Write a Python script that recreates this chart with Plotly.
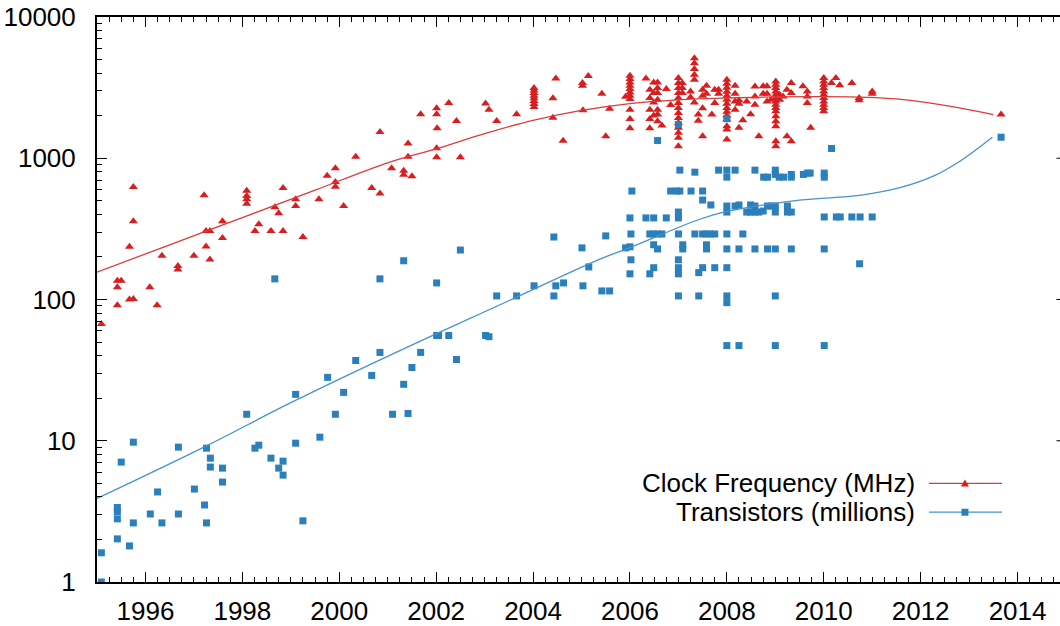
import plotly.graph_objects as go

# ---------------- data ----------------
clock_year = [
    1995.09, 1995.42, 1995.50, 1995.42, 1995.42, 1995.67, 1995.67, 1995.75, 1995.75, 1995.75,
    1996.09, 1996.24, 1996.34, 1996.67, 1996.67, 1997.00, 1997.21, 1997.25, 1997.33, 1997.25,
    1997.33, 1997.59, 1997.59, 1998.09, 1998.09, 1998.09, 1998.09, 1998.26, 1998.34, 1998.59,
    1998.67, 1998.75, 1998.84, 1998.84, 1999.10, 1999.10, 1999.25, 1999.58, 1999.75, 1999.92,
    1999.92, 1999.92, 2000.09, 2000.34, 2000.67, 2000.84, 2000.84, 2001.08, 2001.33, 2001.33,
    2001.42, 2001.42, 2001.50, 2001.68, 2002.01, 2002.01, 2002.02, 2002.01, 2002.01, 2002.26,
    2002.42, 2002.50, 2003.02, 2003.09, 2003.25, 2003.66,
    2004.02, 2004.02, 2004.02, 2004.02, 2004.02, 2004.02, 2004.02, 2004.02,
    2004.41, 2004.41, 2004.47, 2004.62, 2005.02, 2005.02, 2005.03, 2005.14, 2005.42, 2005.50,
    2005.58, 2005.91,
    2006.00, 2006.00, 2006.00, 2006.00, 2006.00, 2006.00, 2006.00, 2006.00, 2006.00, 2006.00, 2006.00,
    2006.33, 2006.41, 2006.41, 2006.41, 2006.41, 2006.41, 2006.49, 2006.49, 2006.49, 2006.49,
    2006.57, 2006.57, 2006.57, 2006.57, 2006.57, 2006.57, 2006.57, 2006.66, 2006.75, 2006.84,
    2007.00, 2007.00, 2007.00, 2007.00, 2007.00, 2007.00, 2007.00, 2007.00, 2007.00, 2007.00,
    2007.00, 2007.00, 2007.00, 2007.00,
    2007.08, 2007.08, 2007.08, 2007.25, 2007.25,
    2007.33, 2007.33, 2007.33, 2007.33, 2007.33, 2007.33,
    2007.41, 2007.41, 2007.50, 2007.50, 2007.50, 2007.50, 2007.58, 2007.58, 2007.69,
    2007.75, 2007.75, 2007.83, 2007.83,
    2008.00, 2008.00, 2008.00, 2008.00, 2008.00, 2008.00, 2008.00, 2008.00, 2008.00, 2008.00,
    2008.00, 2008.00, 2008.00, 2008.00,
    2008.17, 2008.17, 2008.17, 2008.17, 2008.25, 2008.25, 2008.25, 2008.33, 2008.41, 2008.49,
    2008.58, 2008.58, 2008.58, 2008.66, 2008.75, 2008.75, 2008.83, 2008.83, 2008.83, 2008.91,
    2009.01, 2009.01, 2009.01, 2009.01, 2009.01, 2009.01, 2009.01, 2009.01, 2009.01, 2009.01,
    2009.01, 2009.01, 2009.01, 2009.01, 2009.01,
    2009.09, 2009.09, 2009.16, 2009.24, 2009.24, 2009.33, 2009.33, 2009.33, 2009.57,
    2009.66, 2009.66, 2009.66, 2009.73,
    2010.00, 2010.00, 2010.00, 2010.00, 2010.00, 2010.00, 2010.00, 2010.00, 2010.00, 2010.00, 2010.00,
    2010.16, 2010.25, 2010.33, 2010.58, 2010.73, 2010.73, 2011.00, 2011.00, 2013.66,
]
clock_mhz = [
    67, 136, 136, 122, 91, 236, 100, 101, 625, 358,
    122, 91, 204, 173, 163, 204, 546, 305, 305, 237,
    192, 358, 272, 589, 540, 512, 477, 305, 341, 305,
    450, 408, 615, 305, 512, 459, 277, 512, 752, 851,
    678, 629, 459, 1023, 615, 564, 1537, 851, 815, 764,
    1271, 1023, 747, 2046, 2255, 2046, 1630, 1178, 1016, 2460,
    1837, 1016, 2444, 2208, 1837, 2046,
    3140, 3020, 2897, 2773, 2654, 2541, 2423, 2306,
    2654, 1938, 3672, 1328, 3405, 3260, 2183, 3819, 2864, 1431,
    2244, 2728,
    3837, 3634, 3441, 3260, 3090, 2924, 2773, 2626, 2208, 1897, 1630,
    3672, 3055, 2670, 2208, 1897, 1630, 3441, 2897, 2486, 2004,
    3441, 3140, 2897, 2597, 2208, 2037, 1825, 1703, 3090, 2383,
    3694, 3405, 3140, 2897, 2670, 2460, 2270, 2094, 1928, 1778,
    1641, 1513, 1394, 1216,
    3405, 3140, 2897, 2972, 2698,
    5115, 4713, 4276, 3899, 3595, 2486,
    2037, 1846, 3055, 2773, 2255, 1431, 3260, 2864, 2037,
    3055, 2460, 3055, 2864,
    3595, 3367, 3155, 2958, 2773, 2597, 2433, 2270, 2137, 2004,
    1877, 1684, 1595, 1356,
    3260, 2864, 2525, 2208, 2570, 2433, 1641, 1855, 2525, 2046,
    3222, 2741, 2393, 1431, 3235, 2864, 3235, 2864, 2525, 2597,
    3498, 3313, 3140, 2972, 2818, 2670, 2525, 2393, 2270, 2148,
    1982, 1825, 1684, 1319, 1216,
    2818, 2597, 2741, 3055, 1431, 3405, 2897, 1319, 3235,
    2972, 2741, 2460, 1641,
    3694, 3498, 3313, 3140, 2972, 2818, 2670, 2525, 2393, 2270, 2148,
    3405, 3694, 3290, 3405, 2670, 2570, 2972, 2864, 2037,
]

trans_year = [
    1995.09, 1995.09, 1995.42, 1995.42, 1995.42, 1995.42, 1995.50, 1995.67, 1995.75, 1995.75,
    1996.10, 1996.25, 1996.34, 1996.68, 1996.68, 1997.01, 1997.22, 1997.26, 1997.26, 1997.34,
    1997.34, 1997.59, 1997.59, 1998.09, 1998.26, 1998.34, 1998.67, 1998.59, 1998.75, 1998.84,
    1998.84, 1999.10, 1999.10, 1999.25, 1999.60, 1999.76, 1999.92, 2000.09, 2000.34, 2000.67,
    2000.84, 2000.84, 2001.10, 2001.33, 2001.33, 2001.42, 2001.50, 2001.68, 2002.01, 2002.01,
    2002.05, 2002.26, 2002.42, 2002.50, 2003.02, 2003.09, 2003.25, 2003.66, 2004.02, 2004.43,
    2004.43, 2004.47, 2004.63, 2005.01, 2005.03, 2005.15, 2005.42, 2005.58, 2005.50, 2005.91,
    2006.00, 2006.00, 2006.00, 2006.04, 2006.02, 2006.02, 2006.33, 2006.41, 2006.41,
    2006.49, 2006.49, 2006.49, 2006.49, 2006.57, 2006.57, 2006.57, 2006.66, 2006.75,
    2006.84, 2006.96, 2007.03, 2007.03,
    2007.00, 2007.00, 2007.00, 2007.00, 2007.00, 2007.00, 2007.00, 2007.00,
    2007.09, 2007.09, 2007.26, 2007.34, 2007.34, 2007.42, 2007.42,
    2007.50, 2007.50, 2007.50, 2007.50, 2007.58, 2007.58, 2007.58, 2007.66, 2007.67,
    2007.75, 2007.75, 2007.83,
    2008.00, 2008.00, 2008.00, 2008.00, 2008.00, 2008.00, 2008.00, 2008.00, 2008.00, 2008.00, 2008.00,
    2008.17, 2008.17, 2008.25, 2008.25, 2008.25, 2008.33, 2008.41, 2008.49, 2008.49,
    2008.58, 2008.58, 2008.58, 2008.58, 2008.66, 2008.75, 2008.76, 2008.84, 2008.84, 2008.84,
    2008.92,
    2009.00, 2009.00, 2009.00, 2009.00, 2009.00, 2009.00, 2009.00,
    2009.08, 2009.17, 2009.25, 2009.25, 2009.33, 2009.33, 2009.33, 2009.33,
    2009.58, 2009.66, 2009.72,
    2010.01, 2010.01, 2010.01, 2010.01, 2010.01,
    2010.16, 2010.26, 2010.34, 2010.58, 2010.74, 2010.75, 2011.00, 2013.66,
]
trans_millions = [
    1.61, 1.0, 3.37, 3.15, 2.80, 2.02, 7.06, 1.80, 9.77, 2.62,
    3.03, 4.34, 2.62, 9.01, 3.03, 4.55, 3.51, 8.86, 2.62, 7.53,
    6.51, 6.40, 5.10, 15.4, 8.86, 9.30, 140, 7.53, 6.40, 7.17,
    5.71, 21.3, 9.61, 2.71, 10.6, 28.1, 15.4, 22.0, 37.0, 29.0,
    42.2, 140, 15.4, 25.1, 188, 15.6, 33.0, 42.2, 131, 55.6,
    55.6, 55.6, 37.6, 224, 55.6, 54.5, 106, 106, 125, 277,
    106, 125, 131, 232, 125, 170, 115, 115, 282, 232,
    236, 378, 152, 586, 291, 191, 378, 291, 152,
    378, 291, 244, 168, 291, 228, 1334, 291, 378,
    586, 586, 586, 824,
    416, 378, 291, 191, 168, 152, 106, 1730,
    244, 228, 586, 797, 291, 155, 106,
    586, 506, 291, 168, 291, 244, 228, 291, 467,
    291, 168, 824,
    824, 735, 459, 416, 291, 228, 168, 106, 95, 47.2, 1906,
    824, 459, 467, 228, 47.2, 291, 416, 416, 467,
    824, 416, 459, 228, 416, 423, 735, 735, 459, 228,
    459,
    824, 768, 459, 416, 228, 106, 47.2,
    735, 735, 459, 416, 416, 735, 768, 228,
    768, 785, 785,
    785, 735, 384, 228, 47.2,
    1172, 384, 384, 384, 179, 384, 384, 1409,
]

# smoothed trend curves
clock_trend_year = [1995.0, 1996.5, 1998.0, 1999.5, 2001.0, 2002.0, 2003.0, 2004.0, 2005.0,
                    2006.0, 2007.0, 2008.0, 2009.0, 2010.0, 2010.9, 2011.5, 2012.1, 2012.8, 2013.5]
clock_trend_val = [156, 244, 380, 594, 928, 1166, 1496, 1855, 2180,
                   2440, 2590, 2670, 2720, 2730, 2700, 2630, 2490, 2270, 2037]
trans_trend_year = [1995.0, 1997.26, 1999.0, 2001.25, 2003.5, 2005.38, 2006.0, 2007.44, 2008.0,
                    2009.5, 2010.74, 2011.57, 2012.26, 2012.81, 2013.48]
trans_trend_val = [3.9, 9.2, 18.6, 43.5, 98, 193, 233, 370, 420,
                   505, 546, 619, 747, 953, 1409]

x_tick_vals = [1996, 1998, 2000, 2002, 2004, 2006, 2008, 2010, 2012, 2014]
x_tick_text = ["1996", "1998", "2000", "2002", "2004", "2006", "2008", "2010", "2012", "2014"]
y_tick_vals = [1, 10, 100, 1000, 10000]
y_tick_text = ["1", "10", "100", "1000", "10000"]

series_names = ["Clock Frequency (MHz)", "Transistors (millions)"]

RED = "#d91e20"
BLUE = "#2b7fba"
RED_LINE = "#df3a3a"
BLUE_LINE = "#4593cf"
FONT = "Liberation Sans, Arial, sans-serif"
FS = 26

fig = go.Figure()
fig.add_trace(go.Scatter(x=clock_year, y=clock_mhz, mode="markers",
                         marker=dict(symbol="triangle-up", size=8, color=RED, line=dict(width=0)),
                         showlegend=False))
fig.add_trace(go.Scatter(x=clock_trend_year, y=clock_trend_val, mode="lines",
                         line=dict(color=RED_LINE, width=1.3, shape="spline"), showlegend=False))
fig.add_trace(go.Scatter(x=trans_year, y=trans_millions, mode="markers",
                         marker=dict(symbol="square", size=7, color=BLUE, line=dict(width=0)),
                         showlegend=False))
fig.add_trace(go.Scatter(x=trans_trend_year, y=trans_trend_val, mode="lines",
                         line=dict(color=BLUE_LINE, width=1.3, shape="spline"), showlegend=False))

PX_PER_YEAR = 48.45
PLOT_W = 963
x_max = 1995 + PLOT_W / PX_PER_YEAR

minor_y = [m * 10 ** d for d in range(0, 4) for m in range(2, 10)]

fig.update_xaxes(range=[1995, x_max], showgrid=False, zeroline=False,
                 showline=True, linecolor="black", linewidth=2, mirror="allticks",
                 ticks="inside", ticklen=10, tickwidth=1, tickcolor="black",
                 tickvals=x_tick_vals, ticktext=x_tick_text,
                 ticklabelstandoff=5,
                 tickfont=dict(family=FONT, size=FS, color="black"),
                 minor=dict(ticks="inside", ticklen=5, tickwidth=1, tickcolor="black",
                            dtick=0.25, tick0=1995, showgrid=False))
fig.update_yaxes(type="log", range=[0, 4], showgrid=False, zeroline=False,
                 showline=True, linecolor="black", linewidth=2, mirror=False,
                 ticks="inside", ticklen=10, tickwidth=1, tickcolor="black",
                 tickvals=y_tick_vals, ticktext=y_tick_text,
                 ticklabelstandoff=14,
                 tickfont=dict(family=FONT, size=FS, color="black"),
                 minor=dict(ticks="inside", ticklen=5, tickwidth=1, tickcolor="black",
                            tickvals=minor_y, showgrid=False))

# stubs of the mirrored right-axis major ticks (the right border lies just outside the picture)
for v in y_tick_vals[1:-1]:
    fig.add_shape(type="line", xref="paper", yref="y", x0=1 - 3.5 / PLOT_W, x1=1, y0=v, y1=v,
                  line=dict(color="black", width=1))

# manual legend (gnuplot style: text right-aligned, sample to the right)
leg_text_x = 0.8505
leg_rows = [0.1745, 0.1235]
leg_x0, leg_x1, leg_xm = 0.864, 0.9398, 0.9013
for name, yrow, lc, mc, sym in zip(series_names, leg_rows, [RED_LINE, BLUE_LINE], [RED, BLUE],
                                   ["tri", "sq"]):
    fig.add_annotation(x=leg_text_x, y=yrow, xref="paper", yref="paper", text=name,
                       showarrow=False, xanchor="right", yanchor="middle", borderpad=0,
                       font=dict(family=FONT, size=FS, color="black"))
    fig.add_shape(type="line", xref="paper", yref="paper", x0=leg_x0, x1=leg_x1, y0=yrow, y1=yrow,
                  line=dict(color=lc, width=1.3))
    if sym == "tri":
        fig.add_shape(type="path", xref="paper", yref="paper", xsizemode="pixel", ysizemode="pixel",
                      xanchor=leg_xm, yanchor=yrow, path="M -4 -3 L 4 -3 L 0 4 Z",
                      fillcolor=mc, line=dict(width=0))
    else:
        fig.add_shape(type="rect", xref="paper", yref="paper", xsizemode="pixel", ysizemode="pixel",
                      xanchor=leg_xm, yanchor=yrow, x0=-3.5, x1=3.5, y0=-3.5, y1=3.5,
                      fillcolor=mc, line=dict(width=0))

fig.update_layout(width=1060, height=626, margin=dict(l=97, r=0, t=17, b=42, pad=0),
                  plot_bgcolor="white", paper_bgcolor="white", showlegend=False,
                  font=dict(family=FONT, color="black"))

fig.write_html("out.html")
